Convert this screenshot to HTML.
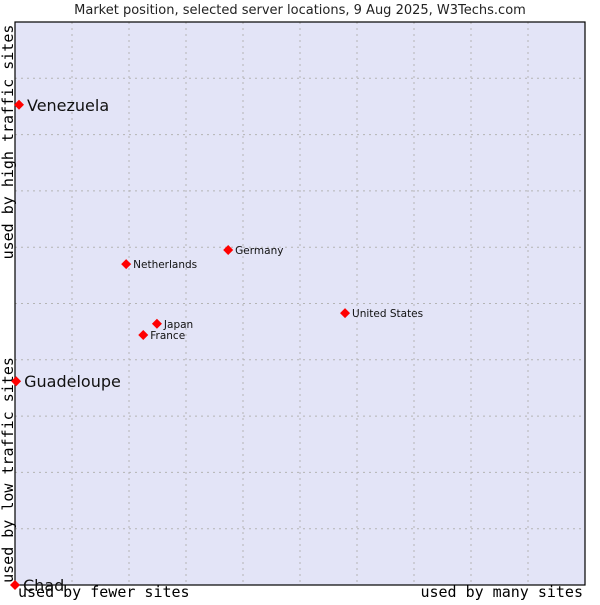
<!DOCTYPE html>
<html><head><meta charset="utf-8"><style>body{margin:0;background:#fff}</style></head><body>
<svg id="c" width="600" height="600" xmlns="http://www.w3.org/2000/svg" font-family="'DejaVu Sans','Liberation Sans',sans-serif">
<rect x="0" y="0" width="600" height="600" fill="#fff"/>
<text x="300" y="14" text-anchor="middle" font-size="13" fill="#222">Market position, selected server locations, 9 Aug 2025, W3Techs.com</text>
<rect x="15" y="22" width="570" height="563" fill="#e3e4f7"/>
<g id="grid"></g>
<rect x="15" y="22" width="570" height="563" fill="none" stroke="#000" stroke-width="1.2"/>
<text transform="translate(13,142) rotate(-90)" text-anchor="middle" font-family="'DejaVu Sans Mono','Liberation Mono',monospace" font-size="15" fill="#000">used by high traffic sites</text>
<text transform="translate(13,470) rotate(-90)" text-anchor="middle" font-family="'DejaVu Sans Mono','Liberation Mono',monospace" font-size="15" fill="#000">used by low traffic sites</text>
<text x="18" y="597" font-family="'DejaVu Sans Mono','Liberation Mono',monospace" font-size="15" fill="#000">used by fewer sites</text>
<text x="583" y="597" text-anchor="end" font-family="'DejaVu Sans Mono','Liberation Mono',monospace" font-size="15" fill="#000">used by many sites</text>
<g id="pts"></g>
</svg>
<script>
const names=["Venezuela","Guadeloupe","Chad","Netherlands","Germany","United States","Japan","France"];
const xVals=[0.7,0.2,0,19.5,37.4,57.9,24.9,22.5];
const yVals=[85.3,36.2,0,57.0,59.5,48.3,46.4,44.4];
const bigLabel=[true,true,true,false,false,false,false,false];
const L=15,T=22,W=570,H=563;
const sx=v=>L+v/100*W, sy=v=>T+H-v/100*H;
const NS="http://www.w3.org/2000/svg";
const g=document.getElementById('grid');
for(let i=1;i<10;i++){
 const vl=document.createElementNS(NS,'line');
 vl.setAttribute('x1',sx(i*10));vl.setAttribute('x2',sx(i*10));vl.setAttribute('y1',T);vl.setAttribute('y2',T+H);
 vl.setAttribute('stroke','#b4b4b4');vl.setAttribute('stroke-dasharray','2,4');
 
 
 g.appendChild(vl);
 const hl=document.createElementNS(NS,'line');
 hl.setAttribute('y1',sy(i*10));hl.setAttribute('y2',sy(i*10));hl.setAttribute('x1',L);hl.setAttribute('x2',L+W);
 hl.setAttribute('stroke','#b4b4b4');hl.setAttribute('stroke-dasharray','2,4');
 
 
 g.appendChild(hl);
}
const p=document.getElementById('pts');
names.forEach((n,i)=>{
 const x=sx(xVals[i]),y=sy(yVals[i]);
 const d=document.createElementNS(NS,'path');
 d.setAttribute('d',`M${x-5},${y}L${x},${y-5}L${x+5},${y}L${x},${y+5}Z`);
 d.setAttribute('fill','#f00');
 
 
 p.appendChild(d);
 const t=document.createElementNS(NS,'text');
 t.setAttribute('x',x+(bigLabel[i]?8:7));
 t.setAttribute('y',y+(bigLabel[i]?6:4));
 t.setAttribute('font-size',bigLabel[i]?16:10.5);
 t.setAttribute('fill','#111');
 t.textContent=n;
 
 
 p.appendChild(t);
});
</script>
</body></html>
